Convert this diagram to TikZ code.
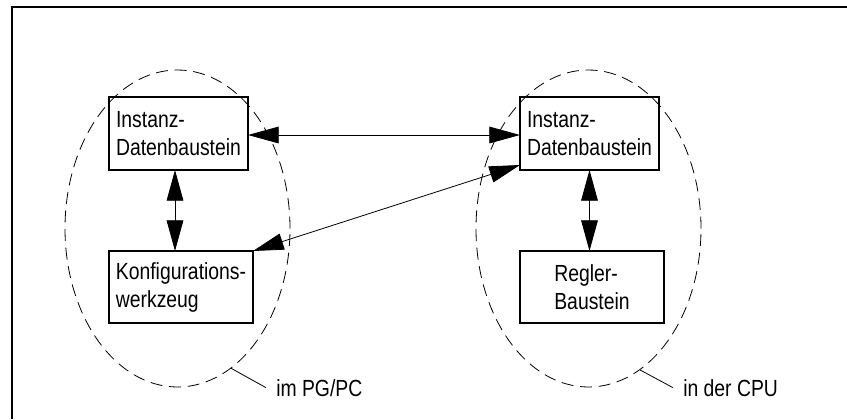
\documentclass[tikz,border=0pt]{standalone}
\usepackage{fontspec}
\setmainfont{Liberation Sans}[FakeStretch=0.83]
\usetikzlibrary{arrows.meta,calc,shapes.geometric}
\begin{document}
\begin{tikzpicture}[x=0.75pt,y=-0.75pt,
  every node/.style={font=\fontsize{17.5pt}{21pt}\selectfont},
  box/.style={draw,line width=0.8pt,inner sep=0pt,outer sep=0pt,align=left},
  region/.style={draw,ellipse,dash pattern=on 9pt off 5pt,line width=0.6pt,
     minimum width=168.75pt,minimum height=237.75pt,inner sep=0pt},
  dbl/.style={arrows={Triangle[length=23pt,width=12.5pt]-Triangle[length=23pt,width=12.5pt]},line width=0.6pt},
  tag/.style={inner xsep=7.5pt,inner ysep=0pt,anchor=base west},
  leader/.style={line width=0.6pt}]
\useasboundingbox (0,0) rectangle (847,419);
\draw[line width=1pt] (12,419) -- (12,7) -- (847,7);
% regions
\node[region] (E1) at (177.5,228.5) {};
\node[region] (E2) at (588.5,228.5) {};
% boxes
\node[box,minimum width=104.25pt,minimum height=54.75pt] (A) at (178.5,133.5) {Instanz-\\Datenbaustein};
\node[box,minimum width=108pt,minimum height=54pt] (B) at (181,287) {Konfigurations-\\werkzeug};
\node[box,minimum width=104.25pt,minimum height=54.75pt] (C) at (589.5,133.5) {Instanz-\\Datenbaustein};
\node[box,minimum width=108pt,minimum height=54pt] (D) at (592,287) {Regler-\\Baustein};
% connectors
\draw[dbl] ($(A.east)+(0,1.5)$) coordinate (a2) -- (a2 -| C.west);
\draw[dbl] ($(A.south)+(-3.5,0)$) coordinate (a1) -- (a1 |- B.north);
\draw[dbl] (C.south) -- (C.south |- D.north);
\draw[dbl] ($(C.south west)+(0,-5)$) coordinate (c1) -- (B.north east);
% labels
\node[tag] (L1) at (266,396) {im PG/PC};
\node[tag] (L2) at (673,396) {in der CPU};
\draw[leader] (E1.-69) -- (L1.west);
\draw[leader] (E2.-70) -- (L2.west);
\end{tikzpicture}
\end{document}
